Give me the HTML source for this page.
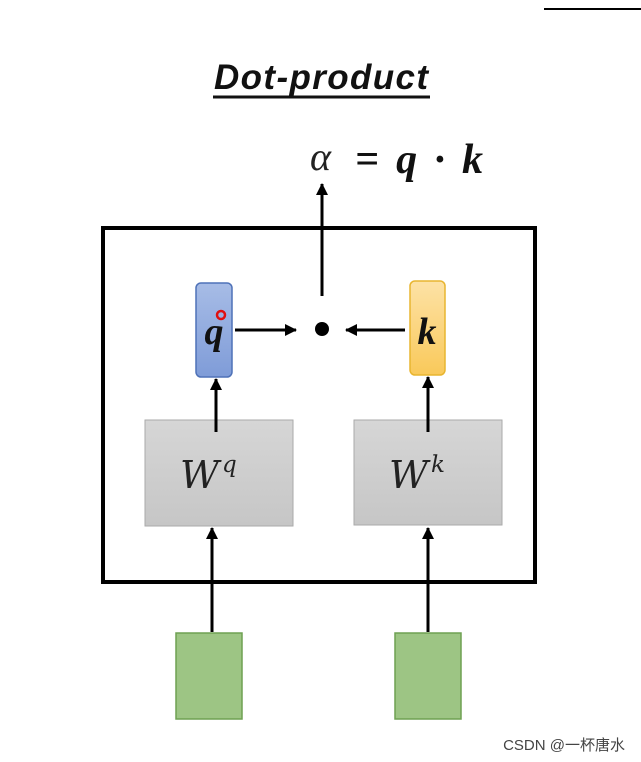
<!DOCTYPE html>
<html><head><meta charset="utf-8"><style>
html,body{margin:0;padding:0;background:#fff;width:641px;height:762px;overflow:hidden}
</style></head><body>
<svg width="641" height="762" xmlns="http://www.w3.org/2000/svg">
<defs>
<marker id="a" markerWidth="14" markerHeight="14" refX="11" refY="6" orient="auto" markerUnits="userSpaceOnUse">
<path d="M0,0 L12,6 L0,12 Z" fill="#000"/></marker>
<linearGradient id="g" x1="0" y1="0" x2="0" y2="1"><stop offset="0" stop-color="#d6d6d6"/><stop offset="1" stop-color="#c6c6c6"/></linearGradient>
<linearGradient id="b" x1="0" y1="0" x2="0" y2="1"><stop offset="0" stop-color="#a7bce6"/><stop offset="1" stop-color="#7f9cd8"/></linearGradient>
<linearGradient id="y" x1="0" y1="0" x2="0" y2="1"><stop offset="0" stop-color="#fde2a6"/><stop offset="1" stop-color="#f9c95a"/></linearGradient>
</defs>
<line x1="544" y1="9" x2="641" y2="9" stroke="#000" stroke-width="2"/>
<text x="321" y="89" text-anchor="middle" textLength="214" font-family="Liberation Sans, sans-serif" font-weight="bold" font-style="italic" font-size="35" fill="#111">Dot-product</text>
<line x1="213" y1="97" x2="430" y2="97" stroke="#111" stroke-width="3"/>
<text x="310" y="170" font-family="Liberation Serif, serif" font-style="italic" font-size="40" fill="#222">α</text>
<text x="355" y="173" textLength="128" font-family="Liberation Serif, serif" font-weight="bold" font-style="italic" font-size="42" fill="#111">= q · k</text>
<rect x="103" y="228" width="432" height="354" fill="none" stroke="#000" stroke-width="4"/>
<line x1="322" y1="296" x2="322" y2="184" stroke="#000" stroke-width="3" marker-end="url(#a)"/>
<circle cx="322" cy="329" r="7" fill="#000"/>
<rect x="196" y="283" width="36" height="94" rx="5" fill="url(#b)" stroke="#4f72b8" stroke-width="1.5"/>
<text x="214" y="344" text-anchor="middle" font-family="Liberation Serif, serif" font-weight="bold" font-style="italic" font-size="38" fill="#111">q</text>
<circle cx="221" cy="315" r="4" fill="none" stroke="#e01010" stroke-width="2.5"/>
<rect x="410" y="281" width="35" height="94" rx="5" fill="url(#y)" stroke="#e8b530" stroke-width="1.5"/>
<text x="427" y="344" text-anchor="middle" font-family="Liberation Serif, serif" font-weight="bold" font-style="italic" font-size="38" fill="#111">k</text>
<line x1="235" y1="330" x2="296" y2="330" stroke="#000" stroke-width="3" marker-end="url(#a)"/>
<line x1="405" y1="330" x2="346" y2="330" stroke="#000" stroke-width="3" marker-end="url(#a)"/>
<rect x="145" y="420" width="148" height="106" fill="url(#g)" stroke="#aaa"/>
<rect x="354" y="420" width="148" height="105" fill="url(#g)" stroke="#aaa"/>
<line x1="216" y1="432" x2="216" y2="379" stroke="#000" stroke-width="3" marker-end="url(#a)"/>
<line x1="428" y1="432" x2="428" y2="377" stroke="#000" stroke-width="3" marker-end="url(#a)"/>
<text x="180" y="488" font-family="DejaVu Serif, serif" font-style="italic" font-size="38" fill="#222">W</text>
<text x="222" y="472" font-family="DejaVu Serif, serif" font-style="italic" font-size="23" fill="#222">q</text>
<text x="389" y="488" font-family="DejaVu Serif, serif" font-style="italic" font-size="38" fill="#222">W</text>
<text x="431" y="472" font-family="DejaVu Serif, serif" font-style="italic" font-size="23" fill="#222">k</text>
<line x1="212" y1="632" x2="212" y2="528" stroke="#000" stroke-width="3" marker-end="url(#a)"/>
<line x1="428" y1="632" x2="428" y2="528" stroke="#000" stroke-width="3" marker-end="url(#a)"/>
<rect x="176" y="633" width="66" height="86" fill="#9dc584" stroke="#6ea152" stroke-width="1.5"/>
<rect x="395" y="633" width="66" height="86" fill="#9dc584" stroke="#6ea152" stroke-width="1.5"/>
<text x="625" y="750" text-anchor="end" font-family="Liberation Sans, 'Noto Sans CJK SC', sans-serif" font-size="15" fill="#444">CSDN @一杯唐水</text>
</svg>
</body></html>
